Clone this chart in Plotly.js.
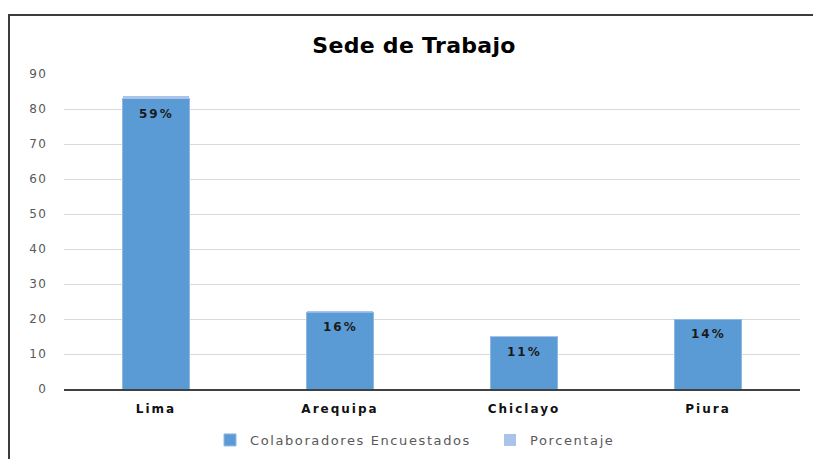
<!DOCTYPE html>
<html>
<head>
<meta charset="utf-8">
<script src="https://cdn.plot.ly/plotly-3.0.1.min.js"></script>
<style>
body{margin:0;background:#fff;}
#chart{position:absolute;left:0;top:0;width:813px;height:459px;}
#frame{position:absolute;left:8px;top:14px;width:900px;height:500px;border:2px solid #3c3c3c;pointer-events:none;}
</style>
</head>
<body>
<div id="chart"></div>
<div id="frame"></div>
<script>
const categories = ["Lima", "Arequipa", "Chiclayo", "Piura"];
const colaboradores = [83, 22, 15, 20];
const porcentaje = [0.59, 0.16, 0.11, 0.14];
const yTicks = [0, 10, 20, 30, 40, 50, 60, 70, 80, 90];

const pctLabels = porcentaje.map(p => Math.round(p * 100) + "%");

const traces = [
  {
    type: "bar",
    name: "Colaboradores Encuestados",
    x: categories,
    y: colaboradores,
    marker: {color: "#5B9BD5", line: {color: "#8fb8e3", width: 1}},
    hoverinfo: "x+y"
  },
  {
    type: "bar",
    name: "Porcentaje",
    x: categories,
    y: porcentaje,
    marker: {color: "#A9C4E8"},
    hoverinfo: "x+y"
  }
];

const annotations = categories.map((c, i) => ({
  x: c,
  y: colaboradores[i],
  xref: "x",
  yref: "y",
  text: "<b>" + pctLabels[i] + "</b>",
  showarrow: false,
  yanchor: "middle",
  yshift: -15,
  font: {family: "DejaVu Sans", size: 12, color: "#1a1a1a"}
}));

const layout = {
  width: 813,
  height: 459,
  margin: {l: 64, r: 13, t: 74, b: 70, autoexpand: false},
  paper_bgcolor: "#ffffff",
  plot_bgcolor: "#ffffff",
  barmode: "stack",
  bargap: 0.64,
  title: {
    text: "<b>Sede de Trabajo</b>",
    font: {family: "DejaVu Sans", size: 22, color: "#000000"},
    x: 414 / 813, xanchor: "center",
    y: 1 - 45 / 459, yanchor: "middle"
  },
  xaxis: {
    tickfont: {family: "DejaVu Sans", size: 12, color: "#111111", weight: "bold"},
    showline: true,
    linecolor: "#404040",
    linewidth: 1.5,
    ticks: "",
    ticklabelstandoff: 8
  },
  yaxis: {
    range: [0, 90],
    tickvals: yTicks,
    ticktext: yTicks.map(String),
    tickfont: {family: "DejaVu Sans", size: 12, color: "#595959"},
    showgrid: true,
    gridcolor: "#d9d9d9",
    gridwidth: 1,
    zeroline: false,
    showline: false,
    ticks: "",
    ticklabelstandoff: 16
  },
  annotations: annotations,
  showlegend: true,
  legend: {
    orientation: "h",
    xref: "container",
    yref: "container",
    x: 210 / 813, xanchor: "left",
    y: 1 - 440 / 459, yanchor: "middle",
    font: {family: "DejaVu Sans", size: 13, color: "#595959"},
    itemwidth: 30,
    entrywidth: 235,
    traceorder: "normal"
  }
};

Plotly.newPlot("chart", traces, layout, {displayModeBar: false, staticPlot: true}).then(() => {
  const sp = (sel, v) => document.querySelectorAll(sel).forEach(el => el.style.letterSpacing = v);
  sp("#chart .xtick text", "2px");
  sp("#chart .ytick text", "1.2px");
  sp("#chart .legendtext", "1.6px");
  sp("#chart .annotation-text", "2px");
  sp("#chart .gtitle", "0.3px");
});
</script>
</body>
</html>
